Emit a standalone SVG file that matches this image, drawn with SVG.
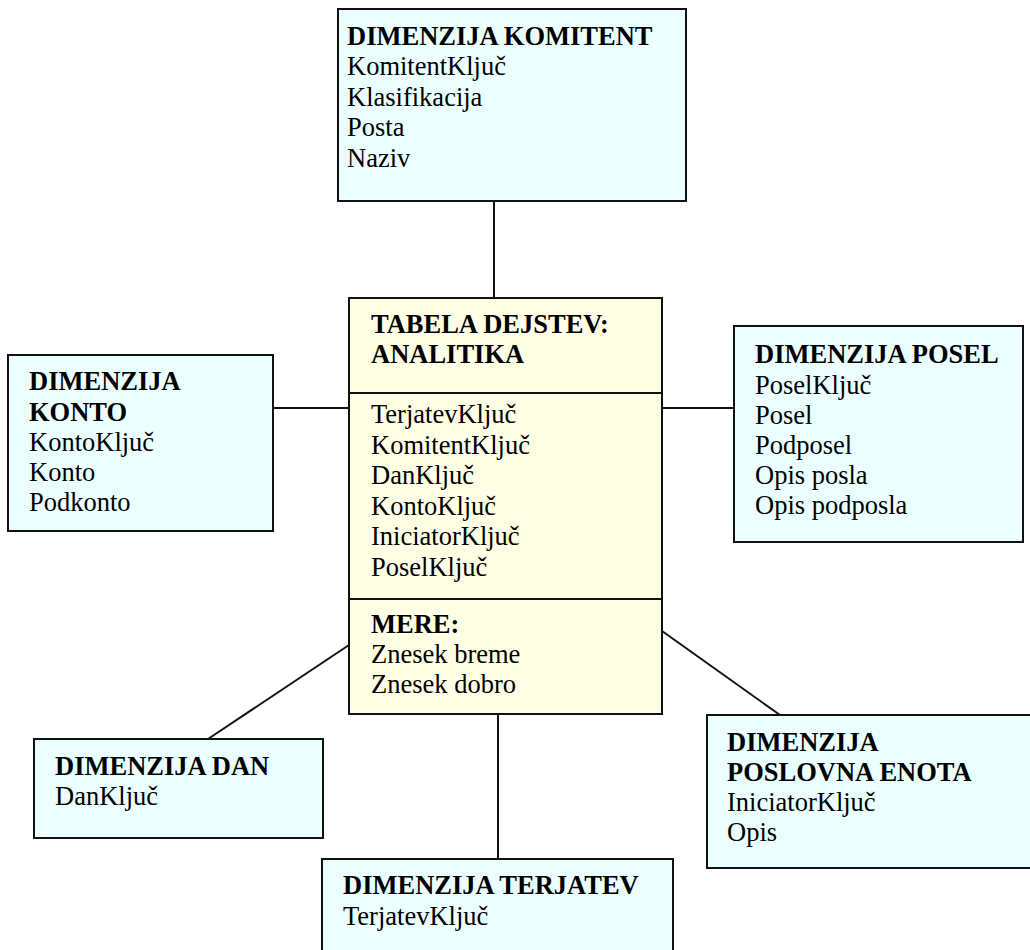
<svg xmlns="http://www.w3.org/2000/svg" width="1030" height="950" viewBox="0 0 1030 950">
  <style>
    .dim { fill: #EBFFFF; stroke: #111; stroke-width: 2; }
    .fact { fill: #FFFFE6; stroke: #111; stroke-width: 2; }
    .sep { stroke: #111; stroke-width: 2; }
    .link { stroke: #111; stroke-width: 2; fill: none; }
    text { font-family: "Liberation Serif", "Times New Roman", serif; font-size: 26.5px; fill: #000; }
    .h { font-weight: bold; }
  </style>
  <rect width="1030" height="950" fill="#fff"/>

  <g id="connectors">
    <line class="link" x1="494" y1="200" x2="494" y2="298"/>
    <line class="link" x1="273" y1="408" x2="349" y2="408"/>
    <line class="link" x1="662" y1="408" x2="734" y2="408"/>
    <line class="link" x1="349" y1="645" x2="208" y2="739"/>
    <line class="link" x1="662" y1="631" x2="780" y2="715"/>
    <line class="link" x1="498" y1="714" x2="498" y2="859"/>
  </g>

  <g id="dim-komitent">
    <rect class="dim" x="338" y="9" width="348" height="192"/>
    <text x="347" y="45" class="h">DIMENZIJA KOMITENT</text>
    <text x="347" y="75">KomitentKljuč</text>
    <text x="347" y="106">Klasifikacija</text>
    <text x="347" y="136">Posta</text>
    <text x="347" y="167">Naziv</text>
  </g>

  <g id="fact-analitika">
    <rect class="fact" x="349" y="298" width="313" height="416"/>
    <line class="sep" x1="349" y1="393" x2="662" y2="393"/>
    <line class="sep" x1="349" y1="599" x2="662" y2="599"/>
    <text x="371" y="333" class="h">TABELA DEJSTEV:</text>
    <text x="371" y="363" class="h">ANALITIKA</text>
    <text x="371" y="423">TerjatevKljuč</text>
    <text x="371" y="454">KomitentKljuč</text>
    <text x="371" y="484">DanKljuč</text>
    <text x="371" y="515">KontoKljuč</text>
    <text x="371" y="545">IniciatorKljuč</text>
    <text x="371" y="576">PoselKljuč</text>
    <text x="371" y="633" class="h">MERE:</text>
    <text x="371" y="663">Znesek breme</text>
    <text x="371" y="693">Znesek dobro</text>
  </g>

  <g id="dim-konto">
    <rect class="dim" x="8" y="355" width="265" height="176"/>
    <text x="29" y="390" class="h">DIMENZIJA</text>
    <text x="29" y="421" class="h">KONTO</text>
    <text x="29" y="451">KontoKljuč</text>
    <text x="29" y="481">Konto</text>
    <text x="29" y="511">Podkonto</text>
  </g>

  <g id="dim-posel">
    <rect class="dim" x="734" y="326" width="289" height="216"/>
    <text x="755" y="363" class="h">DIMENZIJA POSEL</text>
    <text x="755" y="394">PoselKljuč</text>
    <text x="755" y="424">Posel</text>
    <text x="755" y="454">Podposel</text>
    <text x="755" y="484">Opis posla</text>
    <text x="755" y="514">Opis podposla</text>
  </g>

  <g id="dim-dan">
    <rect class="dim" x="34" y="739" width="289" height="99"/>
    <text x="55" y="775" class="h">DIMENZIJA DAN</text>
    <text x="55" y="805">DanKljuč</text>
  </g>

  <g id="dim-poslovna-enota">
    <rect class="dim" x="707" y="715" width="340" height="153"/>
    <text x="727" y="751" class="h">DIMENZIJA</text>
    <text x="727" y="781" class="h">POSLOVNA ENOTA</text>
    <text x="727" y="811">IniciatorKljuč</text>
    <text x="727" y="841">Opis</text>
  </g>

  <g id="dim-terjatev">
    <rect class="dim" x="322" y="859" width="351" height="110"/>
    <text x="343" y="894" class="h">DIMENZIJA TERJATEV</text>
    <text x="343" y="925">TerjatevKljuč</text>
  </g>
</svg>
